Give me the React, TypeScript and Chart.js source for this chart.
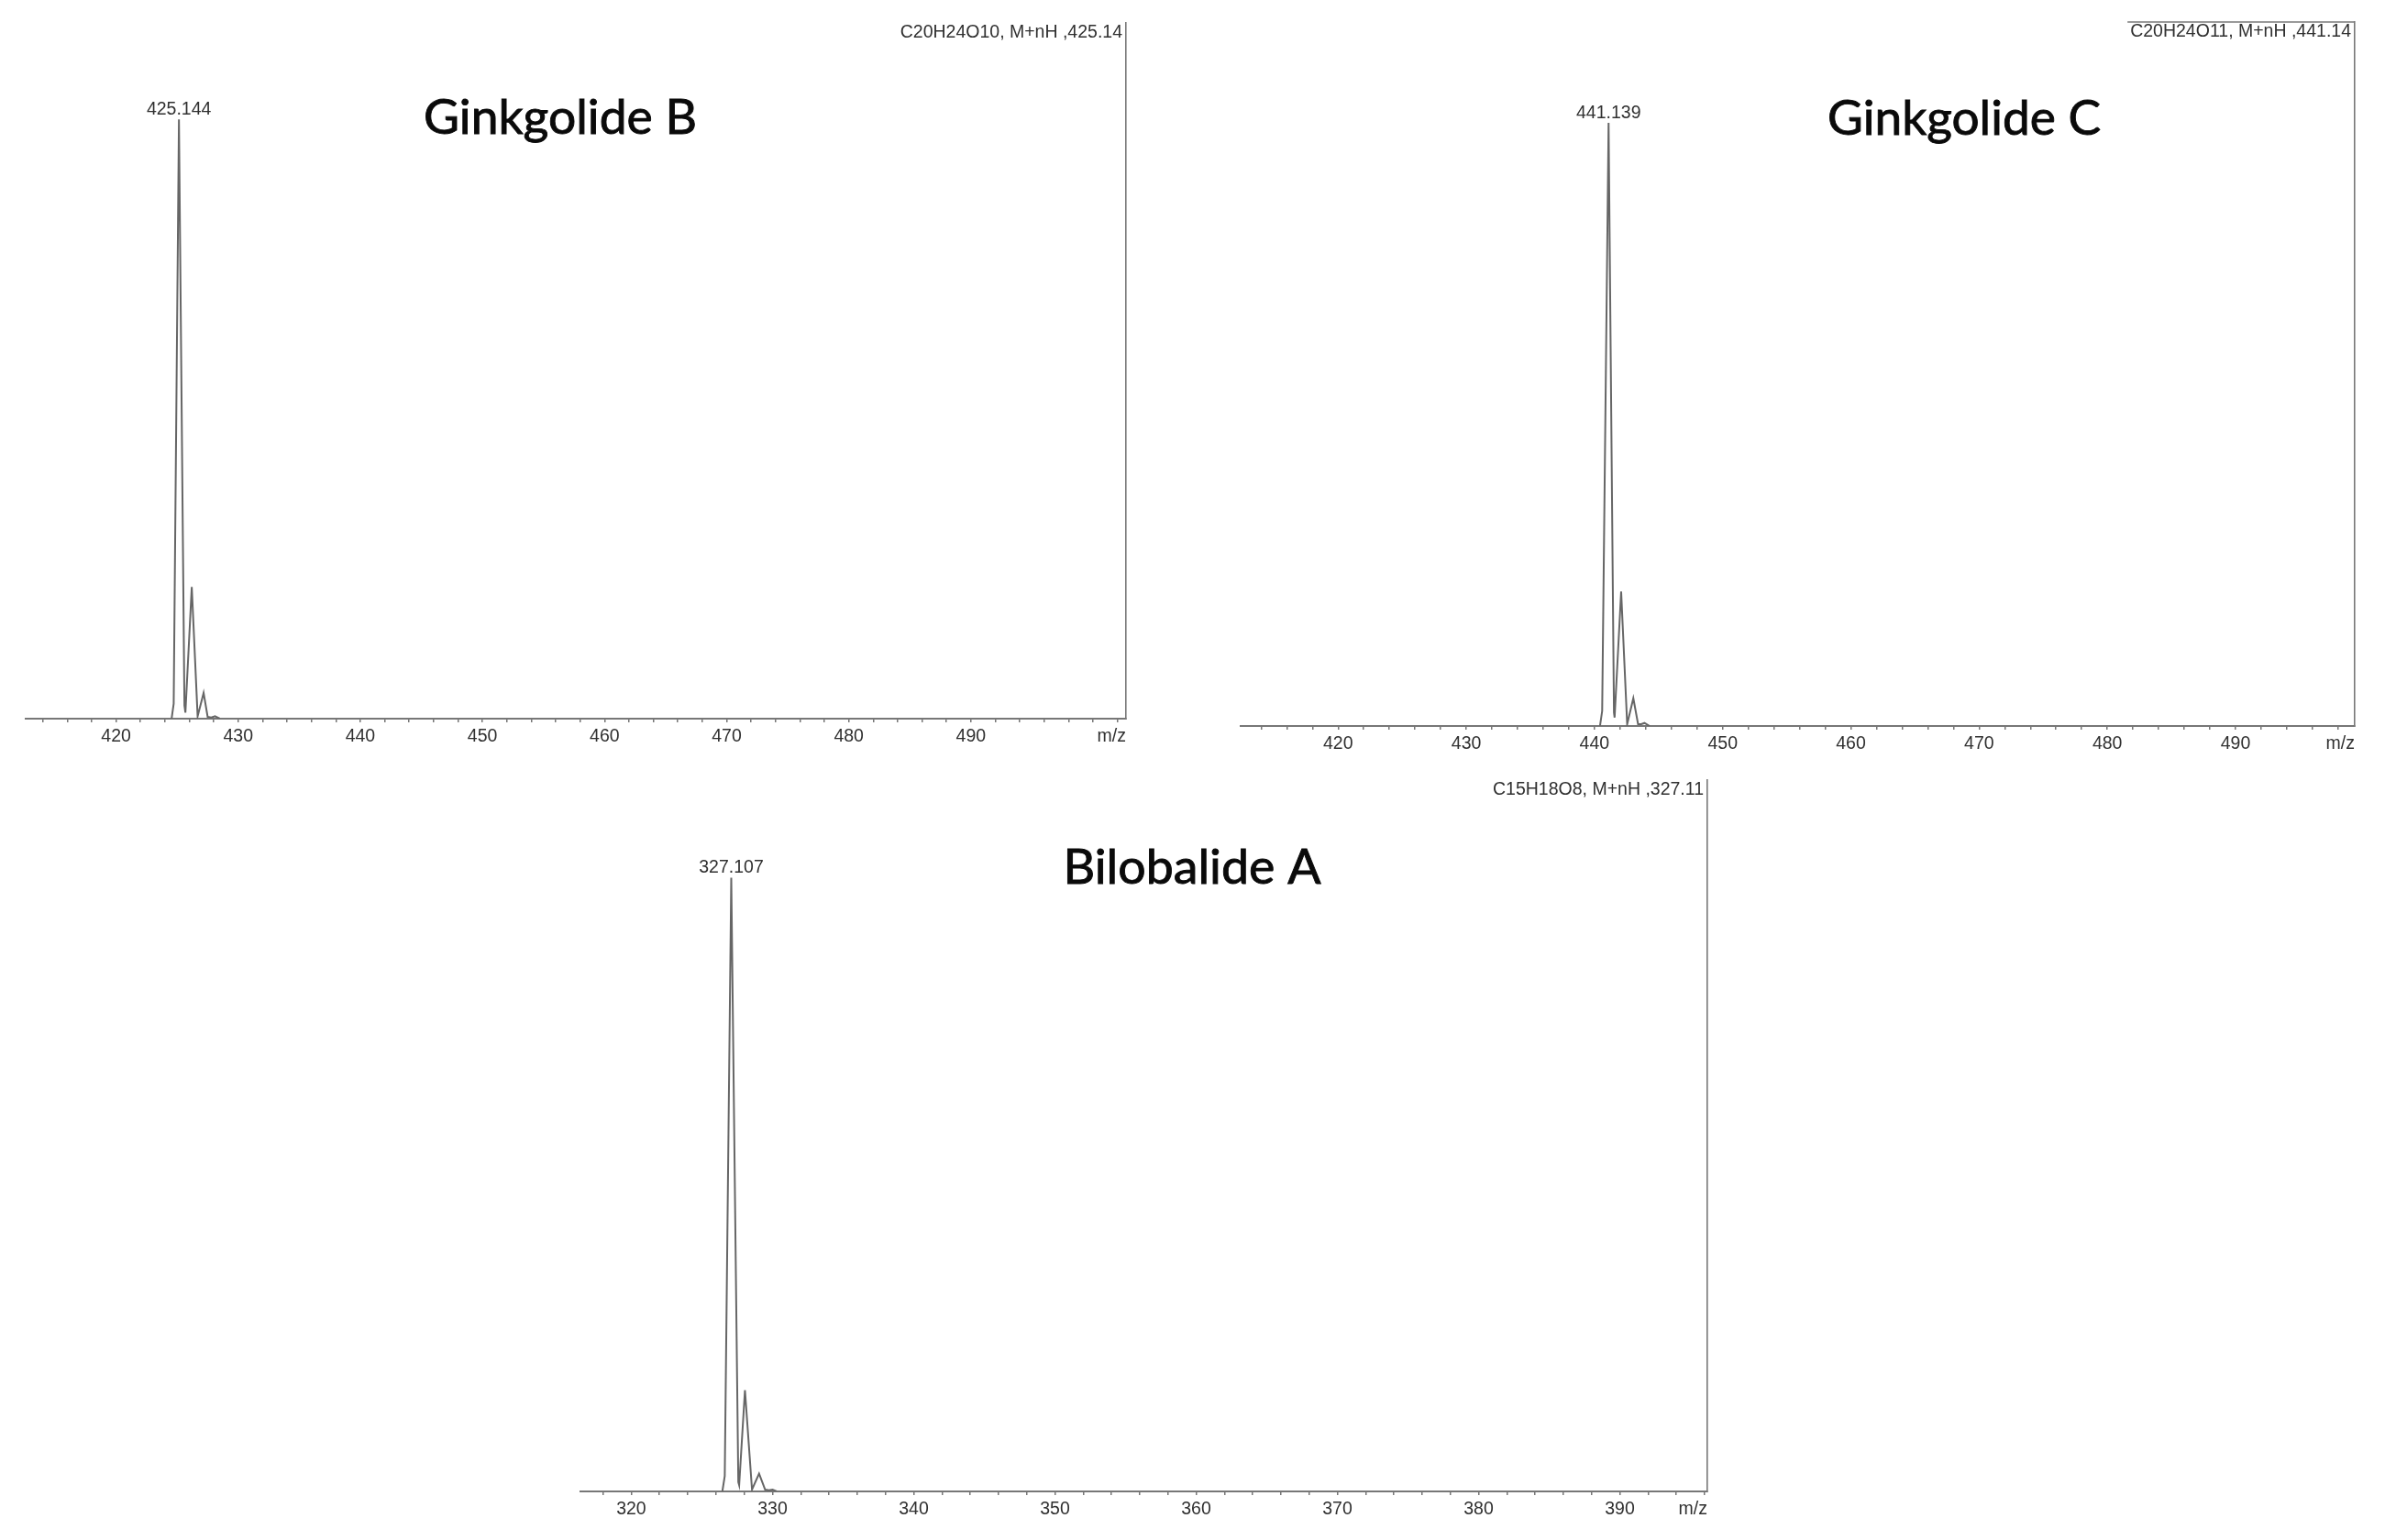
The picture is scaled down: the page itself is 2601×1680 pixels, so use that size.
import React, { useEffect, useRef } from 'react';
import { Chart, registerables } from 'chart.js';

Chart.register(...registerables);

// ---------- Data ----------
const gbMz = [424.55, 424.72, 425.15, 425.6, 425.68, 426.2, 426.68, 427.17, 427.5, 427.8, 428.1, 428.5];
const gbIntensity = [0, 2.5, 100, 2.2, 1.0, 22, 0.4, 4.3, 0.3, 0.2, 0.4, 0];

const gcMz = [440.43, 440.6, 441.1, 441.52, 441.57, 442.08, 442.55, 443.03, 443.4, 443.65, 443.9, 444.3];
const gcIntensity = [0, 2.5, 100, 2.2, 1.4, 22.3, 0.3, 4.6, 0.3, 0.3, 0.5, 0];

const baMz = [326.45, 326.62, 327.08, 327.58, 327.64, 328.05, 328.55, 329.05, 329.48, 329.75, 330.0, 330.3];
const baIntensity = [0, 2.5, 100, 1.5, 1.0, 16.5, 0.3, 2.9, 0.3, 0.2, 0.3, 0];

const gbTickLabels = [420, 430, 440, 450, 460, 470, 480, 490];
const gcTickLabels = [420, 430, 440, 450, 460, 470, 480, 490];
const baTickLabels = [320, 330, 340, 350, 360, 370, 380, 390];

const compoundNames = ['Ginkgolide B', 'Ginkgolide C', 'Bilobalide A'];
const formulaLabels = ['C20H24O10, M+nH ,425.14', 'C20H24O11, M+nH ,441.14', 'C15H18O8, M+nH ,327.11'];
const peakLabels = ['425.144', '441.139', '327.107'];

// ---------- Styles ----------
const LINE = '#666666';
const AXIS = '#777777';
const TEXT = '#303030';
const SMALL_FAMILY = "'Liberation Sans', Arial, sans-serif";
const SMALL_SIZE = 19.5;

const textPlugin = {
  id: 'spectrumText',
  afterDraw(chart: any, _args: any, opts: any) {
    const { ctx, chartArea, scales } = chart;
    const xs = scales.x;
    const ys = scales.y;
    ctx.save();
    ctx.fillStyle = TEXT;
    ctx.font = `${SMALL_SIZE}px ${SMALL_FAMILY}`;

    // m/z axis title at right end of tick-label row
    ctx.textAlign = 'right';
    ctx.textBaseline = 'middle';
    ctx.fillText('m/z', chartArea.right, chartArea.bottom + 19.5);

    // formula annotation top-right
    ctx.fillText(opts.formula, chartArea.right - 4, chartArea.top + 11);
    if (opts.box) {
      const w = ctx.measureText(opts.formula).width;
      ctx.strokeStyle = AXIS;
      ctx.lineWidth = 1.5;
      ctx.beginPath();
      ctx.moveTo(chartArea.right - 4 - w - 3, chartArea.top);
      ctx.lineTo(chartArea.right, chartArea.top);
      ctx.stroke();
    }

    // peak label above the highest point
    const pts = chart.data.datasets[0].data as { x: number; y: number }[];
    let best = pts[0];
    for (const p of pts) if (p.y > best.y) best = p;
    ctx.textAlign = 'center';
    ctx.textBaseline = 'alphabetic';
    ctx.fillText(opts.peakLabel, xs.getPixelForValue(best.x), ys.getPixelForValue(best.y) - 5);

    // compound name
    ctx.font = `52px Lato, 'Noto Sans', sans-serif`;
    ctx.fillStyle = '#0a0a0a';
    ctx.strokeStyle = '#0a0a0a';
    ctx.lineWidth = 0.9;
    const tw = ctx.measureText(opts.title).width;
    const sx = opts.titleWidth / tw;
    ctx.translate(opts.titleX, opts.titleY);
    ctx.scale(sx, 1);
    ctx.textAlign = 'center';
    ctx.fillText(opts.title, 0, 0);
    ctx.strokeText(opts.title, 0, 0);
    ctx.restore();
  },
};

type PanelDef = {
  mz: number[];
  intensity: number[];
  tickLabels: number[];
  name: string;
  formula: string;
  peakLabel: string;
  left: number;
  top: number;
  w: number;
  h: number;
  pad: { left: number; right: number; top: number; bottom: number };
  xMin: number;
  xMax: number;
  yMax: number;
  titleX: number;
  titleY: number;
  titleWidth: number;
  box: boolean;
};

const panels: PanelDef[] = [
  {
    mz: gbMz, intensity: gbIntensity, tickLabels: gbTickLabels,
    name: compoundNames[0], formula: formulaLabels[0], peakLabel: peakLabels[0],
    left: 0, top: 0, w: 1300, h: 840,
    pad: { left: 28, right: 72, top: 25, bottom: 16 },
    xMin: 412.6, xMax: 502.7, yMax: 116.1,
    titleX: 611, titleY: 146, titleWidth: 298, box: false,
  },
  {
    mz: gcMz, intensity: gcIntensity, tickLabels: gcTickLabels,
    name: compoundNames[1], formula: formulaLabels[1], peakLabel: peakLabels[1],
    left: 1320, top: 0, w: 1281, h: 840,
    pad: { left: 33, right: 33, top: 24, bottom: 8 },
    xMin: 412.4, xMax: 499.3, yMax: 116.7,
    titleX: 822, titleY: 147, titleWidth: 298, box: true,
  },
  {
    mz: baMz, intensity: baIntensity, tickLabels: baTickLabels,
    name: compoundNames[2], formula: formulaLabels[2], peakLabel: peakLabels[2],
    left: 600, top: 830, w: 1300, h: 850,
    pad: { left: 33, right: 38, top: 21, bottom: 13 },
    xMin: 316.4, xMax: 396.2, yMax: 115.9,
    titleX: 700, titleY: 134, titleWidth: 281, box: false,
  },
];

function Panel({ def }: { def: PanelDef }) {
  const ref = useRef<HTMLCanvasElement>(null);
  useEffect(() => {
    const canvas = ref.current;
    if (!canvas) return;
    const chart = new Chart(canvas, {
      type: 'line',
      data: {
        datasets: [
          {
            data: def.mz.map((x, i) => ({ x, y: def.intensity[i] })),
            borderColor: LINE,
            borderWidth: 2,
            pointRadius: 0,
            tension: 0,
            fill: false,
          },
        ],
      },
      options: {
        animation: false,
        responsive: false,
        maintainAspectRatio: false,
        events: [],
        layout: { padding: def.pad },
        plugins: {
          legend: { display: false },
          tooltip: { enabled: false },
          title: { display: false },
          spectrumText: {
            formula: def.formula,
            peakLabel: def.peakLabel,
            title: def.name,
            titleX: def.titleX,
            titleY: def.titleY,
            titleWidth: def.titleWidth,
            box: def.box,
          },
        } as any,
        scales: {
          x: {
            type: 'linear',
            position: 'bottom',
            min: def.xMin,
            max: def.xMax,
            afterBuildTicks: (scale: any) => {
              const t: { value: number }[] = [];
              for (let v = Math.ceil(def.xMin / 2) * 2; v <= def.xMax; v += 2) t.push({ value: v });
              scale.ticks = t;
            },
            afterFit: (scale: any) => {
              scale.height = 40;
            },
            ticks: {
              autoSkip: false,
              maxRotation: 0,
              minRotation: 0,
              padding: 4,
              color: TEXT,
              font: { family: SMALL_FAMILY, size: SMALL_SIZE },
              callback: (value: any) => (def.tickLabels.includes(Number(value)) ? String(value) : ''),
            },
            grid: {
              display: true,
              drawOnChartArea: false,
              drawTicks: true,
              tickLength: 4,
              color: AXIS,
              lineWidth: 1.5,
            },
            border: { display: true, color: AXIS, width: 2 },
          },
          y: {
            type: 'linear',
            position: 'right',
            min: 0,
            max: def.yMax,
            ticks: { display: false },
            grid: { display: false, drawTicks: false },
            border: { display: true, color: AXIS, width: 1.6 },
            afterFit: (scale: any) => {
              scale.width = 0;
            },
          },
        },
      } as any,
      plugins: [textPlugin],
    });
    return () => chart.destroy();
  }, [def]);
  return (
    <canvas
      ref={ref}
      width={def.w}
      height={def.h}
      style={{ position: 'absolute', left: def.left, top: def.top, width: def.w, height: def.h }}
    />
  );
}

export default function App() {
  return (
    <div style={{ position: 'absolute', left: 0, top: 0, width: 2601, height: 1680, background: '#ffffff', overflow: 'hidden' }}>
      {panels.map((p, i) => (
        <Panel key={i} def={p} />
      ))}
    </div>
  );
}
